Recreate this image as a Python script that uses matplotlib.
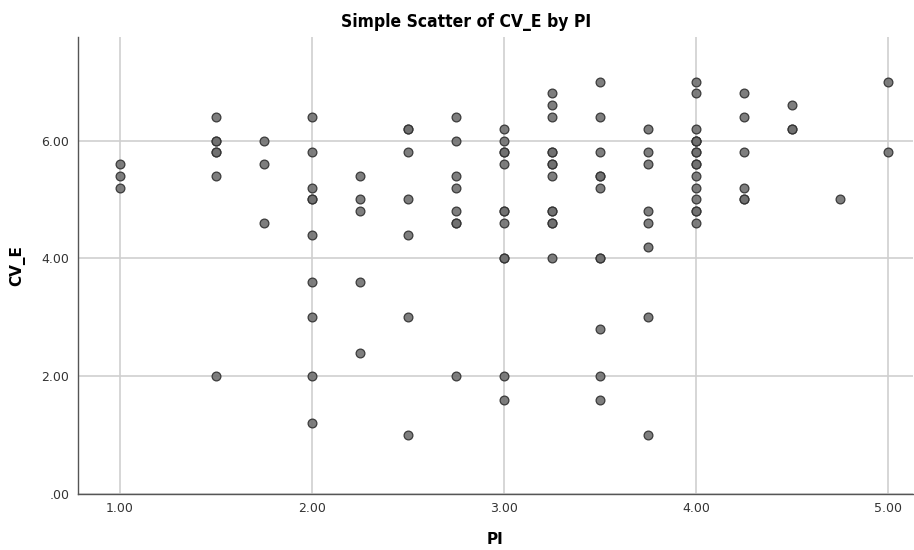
import matplotlib
matplotlib.use("Agg")
import matplotlib.pyplot as plt
from matplotlib.ticker import FuncFormatter

# PI values (x) and CV_E values (y), grouped by PI level
pi = (
    [1.00] * 3
    + [1.50] * 7
    + [1.75] * 3
    + [2.00] * 10
    + [2.25] * 5
    + [2.50] * 7
    + [2.75] * 8
    + [3.00] * 12
    + [3.25] * 13
    + [3.50] * 11
    + [3.75] * 8
    + [4.00] * 16
    + [4.25] * 6
    + [4.50] * 3
    + [4.75] * 1
    + [5.00] * 2
)
cv_e = [
    5.6, 5.4, 5.2,
    6.4, 6.0, 6.0, 5.8, 5.8, 5.4, 2.0,
    6.0, 5.6, 4.6,
    6.4, 5.8, 5.2, 5.0, 5.0, 4.4, 3.6, 3.0, 2.0, 1.2,
    5.4, 5.0, 4.8, 3.6, 2.4,
    6.2, 6.2, 5.8, 5.0, 4.4, 3.0, 1.0,
    6.4, 6.0, 5.4, 5.2, 4.8, 4.6, 4.6, 2.0,
    6.2, 6.0, 5.8, 5.8, 5.6, 4.8, 4.8, 4.6, 4.0, 4.0, 2.0, 1.6,
    6.8, 6.6, 6.4, 5.8, 5.8, 5.6, 5.6, 5.4, 4.8, 4.8, 4.6, 4.6, 4.0,
    7.0, 6.4, 5.8, 5.4, 5.4, 5.2, 4.0, 4.0, 2.8, 2.0, 1.6,
    6.2, 5.8, 5.6, 4.8, 4.6, 4.2, 3.0, 1.0,
    7.0, 6.8, 6.2, 6.0, 6.0, 6.0, 5.8, 5.8, 5.6, 5.6, 5.4, 5.2, 5.0, 4.8, 4.8, 4.6,
    6.8, 6.4, 5.8, 5.2, 5.0, 5.0,
    6.6, 6.2, 6.2,
    5.0,
    7.0, 5.8,
]

x_ticks = [1, 2, 3, 4, 5]
y_ticks = [0, 2, 4, 6]

fig = plt.figure(figsize=(9.14, 5.5), dpi=100)
ax = fig.add_axes([0.085, 0.102, 0.914, 0.831])

ax.scatter(pi, cv_e, s=40, facecolor="#707070", edgecolor="#2e2e2e",
           linewidth=0.9, alpha=0.9, zorder=3)

ax.set_xlim(0.78, 5.13)
ax.set_ylim(0, 7.76)
ax.set_xticks(x_ticks)
ax.set_yticks(y_ticks)

def fmt(v, pos):
    s = f"{v:.2f}"
    return s[1:] if s.startswith("0") else s

ax.xaxis.set_major_formatter(FuncFormatter(fmt))
ax.yaxis.set_major_formatter(FuncFormatter(fmt))

ax.grid(True, color="#cfcfcf", linewidth=1.2, zorder=0)
ax.set_axisbelow(True)
for side in ["top", "right"]:
    ax.spines[side].set_visible(False)
for side in ["left", "bottom"]:
    ax.spines[side].set_color("#555555")
    ax.spines[side].set_linewidth(1.0)

ax.tick_params(length=0, labelsize=9, labelcolor="#333333", pad=6)

ax.set_xlabel("PI", fontsize=11, fontweight="bold", labelpad=12)
ax.set_ylabel("CV_E", fontsize=11, fontweight="bold", labelpad=12)

fig.text(466 / 914, 1 - 22 / 550, "Simple Scatter of CV_E by PI",
         ha="center", va="center", fontsize=12.5, fontweight="bold",
         fontstretch="condensed",
         family=["Liberation Sans Narrow", "DejaVu Sans"])

fig.savefig("out.png", dpi=100)
